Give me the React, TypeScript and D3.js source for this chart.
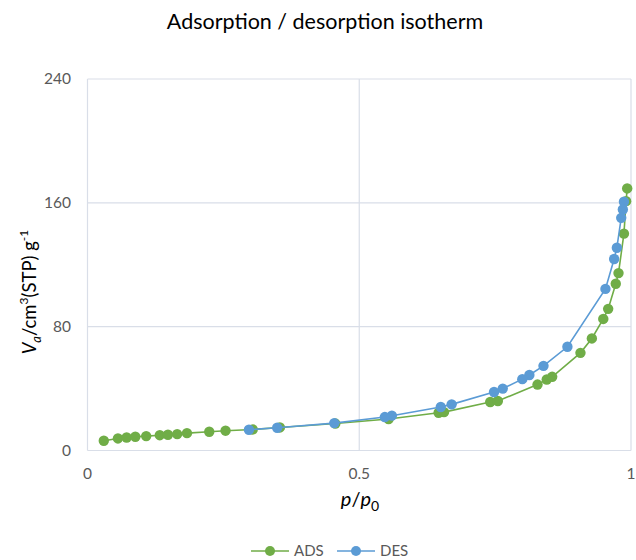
import * as d3 from "d3";
import React from "react";

// adsorption branch (p/p0, volume)
const adsP = [
  0.03, 0.056, 0.072, 0.088, 0.108, 0.133, 0.148, 0.165, 0.183, 0.224, 0.254,
  0.304, 0.354, 0.456, 0.554, 0.646, 0.656, 0.741, 0.755, 0.828, 0.845, 0.855,
  0.907, 0.928, 0.949, 0.958, 0.972, 0.977, 0.987, 0.991, 0.993
];
const adsV = [
  6.3, 7.8, 8.4, 8.9, 9.3, 9.9, 10.2, 10.6, 11.2, 12.1, 12.8, 13.6, 14.9, 17.4,
  20.3, 24.4, 24.8, 31.3, 32.0, 42.6, 45.9, 47.6, 63.1, 72.4, 85.0, 91.5, 107.7,
  114.6, 140.1, 161.1, 169.3
];

// desorption branch, from high to low pressure
const desP = [
  0.987, 0.985, 0.982, 0.974, 0.969, 0.953, 0.883, 0.839, 0.813, 0.8, 0.764,
  0.748, 0.67, 0.65, 0.56, 0.547, 0.454, 0.349, 0.297
];
const desV = [
  160.7, 155.7, 150.3, 131.0, 123.7, 104.4, 67.0, 54.7, 48.8, 46.1, 40.0, 37.8,
  29.8, 28.1, 22.5, 21.6, 17.7, 14.7, 13.4
];

const xTicks = [0, 0.5, 1];
const xTickLabels = ["0", "0.5", "1"];
const yTicks = [0, 80, 160, 240];

const W = 636;
const H = 560;
const FONT = "Lato, 'Open Sans', sans-serif";
const GREEN = "#70AD47";
const BLUE = "#5B9BD5";
const GRID = "#D9DEE8";

export default function App() {
  const x = d3.scaleLinear().domain([0, 1]).range([87.5, 631]);
  const y = d3.scaleLinear().domain([0, 240]).range([450.5, 79]);

  const line = d3
    .line<[number, number]>()
    .x((d) => x(d[0]))
    .y((d) => y(d[1]));

  const ads = adsP.map((p, i) => [p, adsV[i]] as [number, number]);
  const des = desP.map((p, i) => [p, desV[i]] as [number, number]);

  const series = [
    { name: "ADS", pts: ads, color: GREEN },
    { name: "DES", pts: des, color: BLUE }
  ];

  return (
    <svg
      width={W}
      height={H}
      style={{ position: "absolute", left: 0, top: 0, background: "#fff" }}
      fontFamily={FONT}
    >
      <text x={325} y={29} textAnchor="middle" fontSize={21.5} fill="#000">
        Adsorption / desorption isotherm
      </text>

      {/* grid */}
      {yTicks.map((t) => (
        <line
          key={"gy" + t}
          x1={x(0)}
          x2={x(1)}
          y1={y(t)}
          y2={y(t)}
          stroke={GRID}
          strokeWidth={1.2}
        />
      ))}
      {xTicks.map((t) => (
        <line
          key={"gx" + t}
          x1={x(t)}
          x2={x(t)}
          y1={y(0)}
          y2={y(240)}
          stroke={GRID}
          strokeWidth={1.2}
        />
      ))}

      {/* tick labels */}
      {yTicks.map((t) => (
        <text
          key={"ty" + t}
          x={71}
          y={y(t)}
          dy="0.35em"
          textAnchor="end"
          fontSize={15.5}
          fill="#595959"
        >
          {t}
        </text>
      ))}
      {xTicks.map((t, i) => (
        <text
          key={"tx" + t}
          x={x(t)}
          y={479}
          textAnchor="middle"
          fontSize={15.5}
          fill="#595959"
        >
          {xTickLabels[i]}
        </text>
      ))}

      {/* series */}
      {series.map((s) => (
        <g key={s.name}>
          <path d={line(s.pts) || ""} fill="none" stroke={s.color} strokeWidth={1.6} />
          {s.pts.map((d, i) => (
            <circle key={i} cx={x(d[0])} cy={y(d[1])} r={5.2} fill={s.color} />
          ))}
        </g>
      ))}

      {/* axis titles */}
      <text
        transform="translate(36,292) rotate(-90)"
        textAnchor="middle"
        fontSize={18.5}
        fill="#000"
      >
        <tspan fontStyle="italic">V</tspan>
        <tspan fontStyle="italic" fontSize={13} dy={5}>a</tspan>
        <tspan dy={-5}>/cm</tspan>
        <tspan fontSize={12} dy={-8}>3</tspan>
        <tspan dy={8}>(STP) g</tspan>
        <tspan fontSize={12} dy={-8}>-1</tspan>
      </text>
      <text x={360} y={506} textAnchor="middle" fontSize={20} fill="#000">
        <tspan fontStyle="italic">p</tspan>
        <tspan>/</tspan>
        <tspan fontStyle="italic">p</tspan>
        <tspan fontSize={14} dy={5}>0</tspan>
      </text>

      {/* legend */}
      {series.map((s, i) => {
        const lx = 251 + i * 86;
        return (
          <g key={"lg" + s.name}>
            <line x1={lx} x2={lx + 38} y1={551} y2={551} stroke={s.color} strokeWidth={1.6} />
            <circle cx={lx + 19} cy={551} r={5} fill={s.color} />
            <text x={lx + 43} y={551} dy="0.35em" fontSize={15} fill="#595959">
              {s.name}
            </text>
          </g>
        );
      })}
    </svg>
  );
}
